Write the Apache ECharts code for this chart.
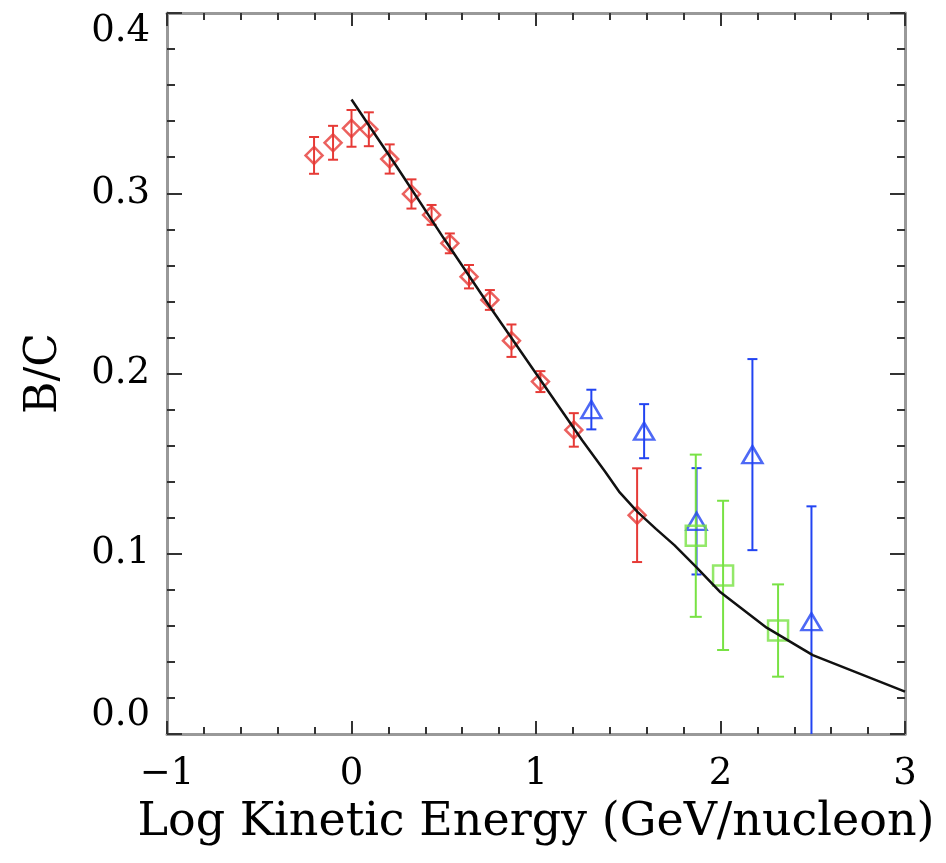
<!DOCTYPE html>
<html>
<head>
<meta charset="utf-8">
<script src="https://cdn.jsdelivr.net/npm/echarts@6/dist/echarts.min.js"></script>
<style>
html,body{margin:0;padding:0;background:#fff;}
#chart{width:946px;height:863px;}
</style>
</head>
<body>
<div id="chart"></div>
<script>
// Red diamonds
const redX = [-0.203, -0.100, 0.0, 0.094, 0.207, 0.325, 0.434, 0.533, 0.637, 0.750, 0.867, 1.024, 1.205, 1.548];
const redY = [0.321, 0.328, 0.336, 0.3355, 0.319, 0.2996, 0.288, 0.2722, 0.2537, 0.2408, 0.2182, 0.1955, 0.1687, 0.1214];
const redErr = [0.0102, 0.0094, 0.0102, 0.0094, 0.0081, 0.0081, 0.0055, 0.0055, 0.0065, 0.0055, 0.009, 0.0058, 0.0093, 0.026];
// Blue triangles
const blueX = [1.30, 1.586, 1.87, 2.173, 2.493];
const blueY = [0.180, 0.168, 0.118, 0.155, 0.0623];
const blueErr = [0.011, 0.015, 0.0295, 0.053, 0.064];
// Green squares
const greenX = [1.866, 2.014, 2.312];
const greenY = [0.110, 0.088, 0.0574];
const greenErr = [0.045, 0.0414, 0.0256];
// Model curve
const modelX = [0, 0.25, 0.5, 0.75, 1.0, 1.25, 1.375, 1.45, 1.55, 1.65, 1.75, 1.87, 2.0, 2.25, 2.5, 3.0];
const modelY = [0.352, 0.314, 0.275, 0.237, 0.200, 0.163, 0.1455, 0.1345, 0.1232, 0.1138, 0.1048, 0.0925, 0.0786, 0.059, 0.0438, 0.0235];
// Axis ticks
const xTicks = [-1, 0, 1, 2, 3];
const yTicks = [0.0, 0.1, 0.2, 0.3, 0.4];

const RED = '#e63a36', BLUE = '#2244f2', GREEN = '#78e244';
const FONT = 'DejaVu Serif';

function zip3(a, b, c) { return a.map((v, i) => [v, b[i], c[i]]); }

function errSeries(data, color, capW) {
  return {
    type: 'custom',
    clip: true,
    data: data,
    encode: {x: 0, y: 1},
    z: 2,
    renderItem: function (params, api) {
      const x = api.value(0), y = api.value(1), e = api.value(2);
      const t = api.coord([x, y + e]), b = api.coord([x, y - e]);
      const hw = capW / 2;
      const st = {stroke: color, lineWidth: 2};
      return {type: 'group', children: [
        {type: 'line', shape: {x1: t[0], y1: t[1], x2: b[0], y2: b[1]}, style: st},
        {type: 'line', shape: {x1: t[0] - hw, y1: t[1], x2: t[0] + hw, y2: t[1]}, style: st},
        {type: 'line', shape: {x1: b[0] - hw, y1: b[1], x2: b[0] + hw, y2: b[1]}, style: st}
      ]};
    }
  };
}

function markSeries(xs, ys, color, symbol, size) {
  return {
    type: 'scatter',
    data: xs.map((v, i) => [v, ys[i]]),
    symbol: symbol,
    symbolSize: size,
    itemStyle: {color: 'rgba(0,0,0,0)', borderColor: color, borderWidth: 2.5},
    z: 3,
    silent: true
  };
}

const frame = {show: true, onZero: false, lineStyle: {color: '#999', width: 3}};
const tickX = {show: true, inside: true, length: 13, lineStyle: {color: '#333', width: 2}};
const minorX = {show: true, splitNumber: 5, length: 7, lineStyle: {color: '#333', width: 2}};

const chart = echarts.init(document.getElementById('chart'), null, {renderer: 'canvas'});
chart.setOption({
  backgroundColor: '#fff',
  animation: false,
  grid: {left: 167, right: 41, top: 13, bottom: 129, containLabel: false},
  xAxis: [
    {
      type: 'value', min: xTicks[0], max: xTicks[xTicks.length - 1], interval: 1,
      position: 'bottom',
      axisLine: frame, axisTick: tickX, minorTick: minorX,
      splitLine: {show: false},
      axisLabel: {
        margin: 22, color: '#000', fontFamily: FONT, fontSize: 37,
        formatter: v => (v < 0 ? '\u2212' + Math.abs(v) : String(v))
      },
      name: 'Log Kinetic Energy (GeV/nucleon)',
      nameLocation: 'middle', nameGap: 66,
      nameTextStyle: {color: '#000', fontFamily: FONT, fontSize: 46}
    },
    {
      type: 'value', min: xTicks[0], max: xTicks[xTicks.length - 1], interval: 1,
      position: 'top',
      axisLine: frame, axisTick: tickX, minorTick: minorX,
      splitLine: {show: false}, axisLabel: {show: false}
    }
  ],
  yAxis: [
    {
      type: 'value', min: yTicks[0], max: yTicks[yTicks.length - 1], interval: 0.1,
      position: 'left',
      axisLine: frame,
      axisTick: {show: true, inside: true, length: 15, lineStyle: {color: '#333', width: 2}},
      minorTick: {show: true, splitNumber: 5, length: 8, lineStyle: {color: '#333', width: 2}},
      splitLine: {show: false},
      axisLabel: {
        margin: 17, color: '#000', fontFamily: FONT, fontSize: 37,
        formatter: v => v.toFixed(1),
        verticalAlignMinLabel: 'bottom', verticalAlignMaxLabel: 'top'
      },
      name: 'B/C', nameLocation: 'middle', nameGap: 100, nameRotate: 90,
      nameTextStyle: {color: '#000', fontFamily: FONT, fontSize: 44}
    },
    {
      type: 'value', min: yTicks[0], max: yTicks[yTicks.length - 1], interval: 0.1,
      position: 'right',
      axisLine: frame,
      axisTick: {show: true, inside: true, length: 15, lineStyle: {color: '#333', width: 2}},
      minorTick: {show: true, splitNumber: 5, length: 8, lineStyle: {color: '#333', width: 2}},
      splitLine: {show: false}, axisLabel: {show: false}
    }
  ],
  series: [
    {
      type: 'line', data: modelX.map((v, i) => [v, modelY[i]]),
      showSymbol: false, symbol: 'none', smooth: false,
      lineStyle: {color: '#111', width: 2.5}, z: 4, silent: true
    },
    errSeries(zip3(redX, redY, redErr), RED, 10),
    errSeries(zip3(blueX, blueY, blueErr), BLUE, 10),
    errSeries(zip3(greenX, greenY, greenErr), GREEN, 12),
    markSeries(redX, redY, RED, 'diamond', [17, 17]),
    markSeries(blueX, blueY, BLUE, 'triangle', [20, 17]),
    markSeries(greenX, greenY, GREEN, 'rect', [20, 20])
  ]
});
</script>
</body>
</html>
